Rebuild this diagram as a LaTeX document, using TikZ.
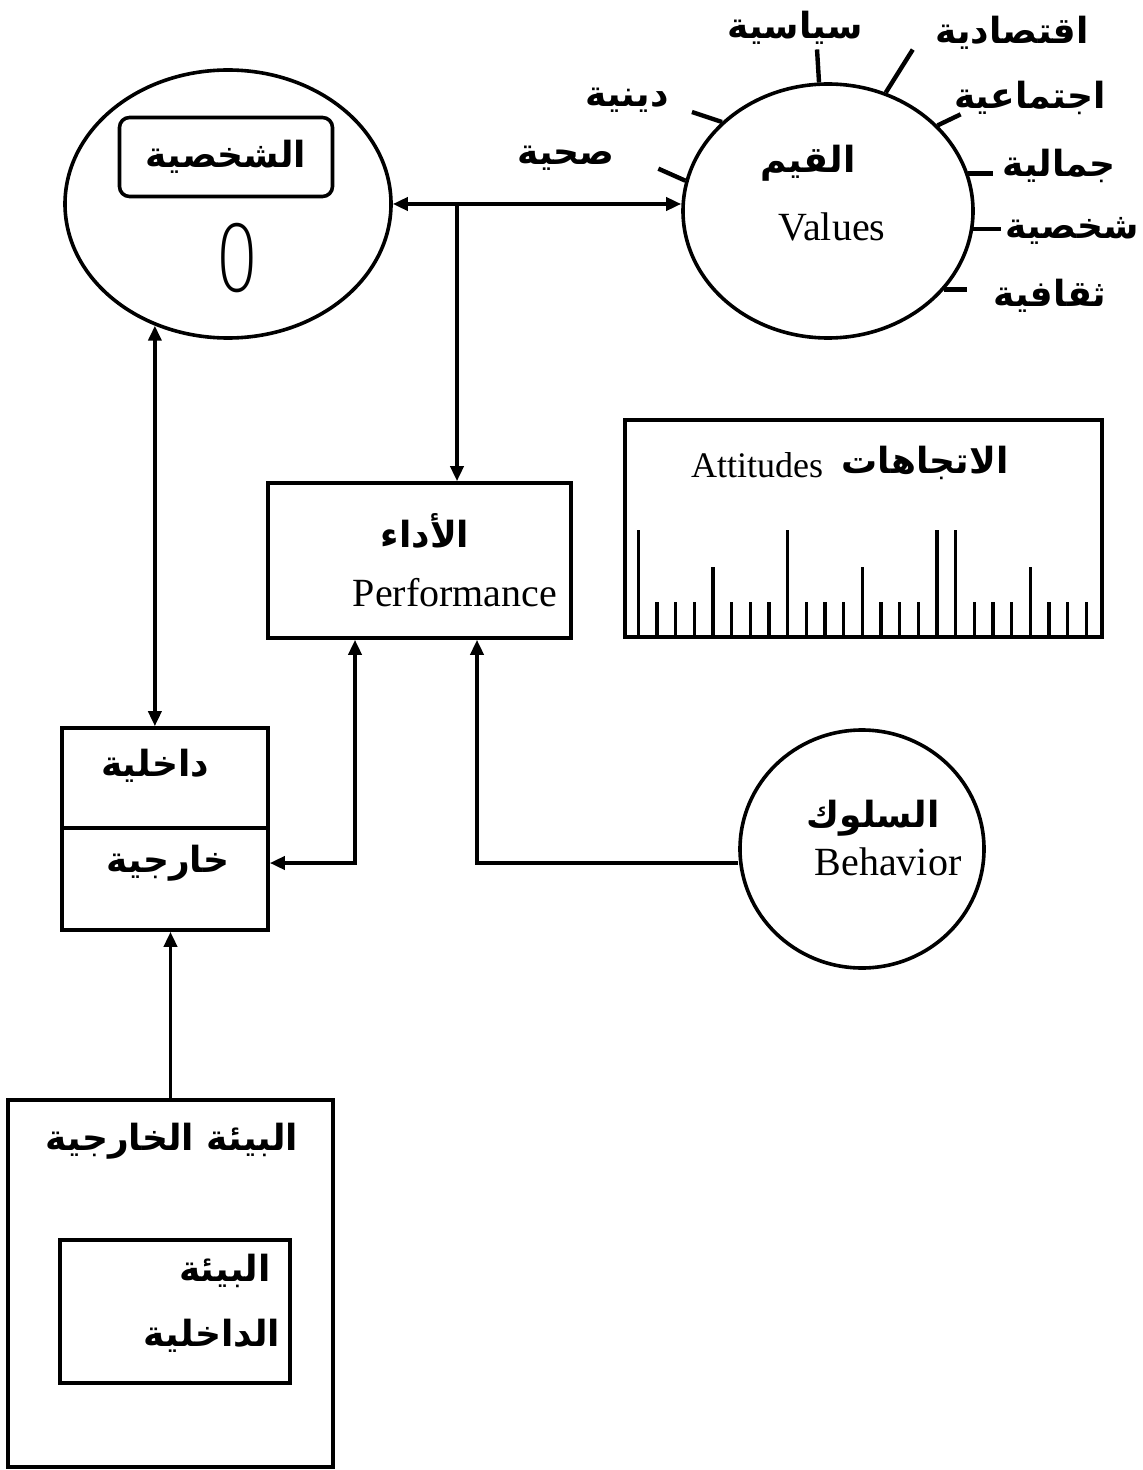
\documentclass[tikz,border=0pt]{standalone}
\usepackage{fontspec}
\setmainfont{Liberation Serif}
\newfontfamily\arabicfont[Script=Arabic]{DejaVu Sans}
\newfontfamily\digitfont{DejaVu Sans ExtraLight}
\TeXXeTstate=1
\usepackage{tikz}
\usetikzlibrary{shapes.geometric,arrows.meta}

\begin{document}
\begin{tikzpicture}
      [ x=0.5pt, y=-0.5pt, line width=1.8pt,
        >={Triangle[length=7.5pt,width=6.5pt]},
        box/.style={draw, rectangle, inner sep=0pt},
        oval/.style={draw, ellipse, inner sep=0pt},
        ar/.style={font=\arabicfont\bfseries\fontsize{18}{21}\selectfont},
        en/.style={font=\fontsize{20}{24}\selectfont},
        spoke/.style={line width=2.2pt},
        ruler/.style={line width=1.7pt}
      ]
      \useasboundingbox (0,0) rectangle (1142,1470);

      % personality
      \node[oval, minimum width=163pt, minimum height=134pt]  (pers)    at (228,204)   {};
      \node[box, rounded corners=5pt, minimum width=106.5pt, minimum height=39.5pt, ar]
                                                               (persbox) at (226,157)   {\beginR الشخصية\endR};
      \node[font=\digitfont\fontsize{46}{46}\selectfont, xscale=0.75, inner sep=0pt]
                                                               (zero)    at (237,258)   {0};

      % values
      \node[oval, minimum width=145pt, minimum height=127pt]  (vals)    at (828,211)   {};
      \node[ar]                                                (qiyam)   at (808,163)   {\beginR القيم\endR};
      \node[en]                                                (valtxt)  at (832,227)   {Values};

      \node[ar] (siyasiya)   at (795,28)   {\beginR سياسية\endR};
      \node[ar] (iqtisadiya) at (1012,33)  {\beginR اقتصادية\endR};
      \node[ar] (ijtimaiya)  at (1030,98)  {\beginR اجتماعية\endR};
      \node[ar] (jamaliya)   at (1059,166) {\beginR جمالية\endR};
      \node[ar] (shakhsiya)  at (1072,231) {\beginR شخصية\endR};
      \node[ar] (thaqafiya)  at (1050,296) {\beginR ثقافية\endR};
      \node[ar] (diniya)     at (627,100)  {\beginR دينية\endR};
      \node[ar] (sihhiya)    at (566,158)  {\beginR صحية\endR};

      \draw[spoke] (vals.94)  -- ++(-2,-33);
      \draw[spoke] (vals.64)  -- ++(27,-43);
      \draw[spoke] (vals.38)  -- ++(23,-11);
      \draw[spoke] (vals.15)  -- ++(25,0);
      \draw[spoke] (vals.353) -- ++(28,0);
      \draw[spoke] (vals.326) -- ++(23,0);
      \draw[spoke] (vals.140) -- ++(-30,-10);
      \draw[spoke] (vals.168) -- ++(-27,-12);

      % performance
      \node[box, minimum width=151.5pt, minimum height=77.5pt] (perf)    at (419.5,560.5) {};
      \node[ar]                                                (adaa)    at (425,531)   {\beginR الأداء\endR};
      \node[en]                                                (perftxt) at (455,593)   {Performance};

      % attitudes
      \node[box, minimum width=238.5pt, minimum height=108.5pt] (att)    at (863.5,528.5) {};
      \node[en, font=\fontsize{18}{22}\selectfont]             (atttxt)  at (757,465)   {Attitudes};
      \node[ar]                                                (ittijah) at (925,463)   {\beginR الاتجاهات\endR};
      \foreach \t [count=\i from 0] in {530,602,602,602,567,602,602,602,530,602,602,602,567,
                                        602,602,602,530,530,602,602,602,567,602,602,602}
        {\pgfmathsetmacro\xx{638.3+18.67*\i}
         \draw[ruler] (\xx,\t) -- (\xx,\t |- att.south);}

      % behavior
      \node[oval, minimum width=122pt, minimum height=119pt]  (behav)   at (862,849)   {};
      \node[ar]                                                (suluk)   at (873,818)   {\beginR السلوك\endR};
      \node[en]                                                (behtxt)  at (888,862)   {Behavior};

      % internal / external
      \node[box, minimum width=103pt, minimum height=50pt]    (kin)     at (165,778)   {};
      \node[box, minimum width=103pt, minimum height=51pt]    (kout)    at (165,879)   {};
      \node[ar]                                                (dakh)    at (155,766)   {\beginR داخلية\endR};
      \node[ar]                                                (khar)    at (168,863)   {\beginR خارجية\endR};

      % environment
      \node[box, minimum width=162.5pt, minimum height=183.5pt] (env)    at (170.5,1283.5) {};
      \node[box, minimum width=115pt, minimum height=71.5pt]  (envin)   at (175,1311.5) {};
      \node[ar]                                                (envout)  at (172,1141)  {\beginR البيئة الخارجية\endR};
      \node[ar]                                                (bia)     at (225,1271)  {\beginR البيئة\endR};
      \node[ar]                                                (dakhil)  at (212,1336)  {\beginR الداخلية\endR};

      % connectors
      \coordinate (split) at (457,204);
      \coordinate (elbow) at (355,863);
      \coordinate (turn)  at (477,863);

      \draw[<->] (pers.east) -- (pers.east -| vals.west);
      \draw[->]  (split) -- (split |- perf.north);
      \draw[<->] (pers.239) -- (pers.239 |- kin.north);
      \draw[<->] (kout.east |- elbow) -- (elbow) -- (elbow |- perf.south);
      \draw[->]  (behav.west |- turn) -- (turn) -- (turn |- perf.south);
      \draw[->]  (env.north) -- (env.north |- kout.south);
    \end{tikzpicture}
\end{document}
